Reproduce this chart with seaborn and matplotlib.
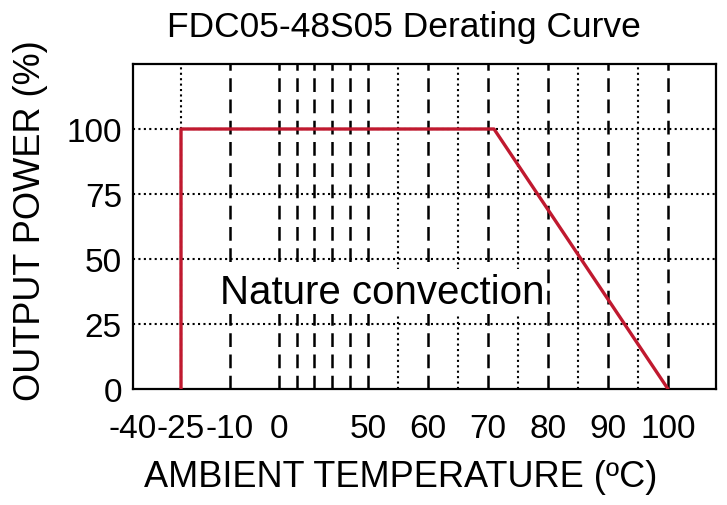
import numpy as np
import pandas as pd
import matplotlib
matplotlib.use('Agg')
import matplotlib.pyplot as plt
import seaborn as sns

# derating curve data
temps = [-25, -25, 71, 100]
power = [0, 100, 100, 0]

x_ticks = [-40, -25, -10, 0, 50, 60, 70, 80, 90, 100]
y_ticks = [0, 25, 50, 75, 100]

# grid lines as drawn on the datasheet
dashed_x = [-10, 0, 10, 20, 30, 40, 50, 60, 70, 80, 90, 100]
dotted_x = [-25, 55, 65, 75, 85, 95]
dotted_y = [25, 50, 75, 100]

# the datasheet axis is not linear: compressed between 0 and 50
scale_temps = [-60, -40, -25, -10, 0, 10, 20, 30, 40, 50, 130]
scale_pos = [-64, 0, 48, 97, 146, 164, 181, 199, 217, 235, 715]


def fwd(x):
    return np.interp(x, scale_temps, scale_pos)


def inv(p):
    return np.interp(p, scale_pos, scale_temps)


df = pd.DataFrame({'temp': temps, 'power': power})

sns.set_style('white')
plt.rcParams['font.family'] = ['Liberation Sans', 'DejaVu Sans']
plt.rcParams['text.color'] = 'black'
plt.rcParams['axes.labelcolor'] = 'black'
plt.rcParams['xtick.color'] = 'black'
plt.rcParams['ytick.color'] = 'black'

fig = plt.figure(figsize=(7.27, 5.06), dpi=100)
ax = fig.add_axes([133 / 727, 1 - 390 / 506, 583 / 727, 325 / 506])
ax.set_xscale('function', functions=(fwd, inv))

for t in dashed_x:
    ax.axvline(t, color='black', lw=1.8, dashes=(5.5, 3.0), zorder=1)
for t in dotted_x:
    ax.axvline(t, color='black', lw=1.5, dashes=(1, 1.6), zorder=1)
for p in dotted_y:
    ax.axhline(p, color='black', lw=1.5, dashes=(1, 1.6), zorder=1)

ax.text(0.427, 0.3, 'Nature convection', transform=ax.transAxes,
        fontsize=29, ha='center', va='center', zorder=2,
        bbox=dict(boxstyle='square,pad=0.08', fc='white', ec='none'))

sns.lineplot(data=df, x='temp', y='power', sort=False, estimator=None,
             color='#C0192F', lw=2.4, ax=ax, zorder=3)

ax.set_xlim(-40, 108)
ax.set_ylim(0, 125)
ax.set_xticks(x_ticks)
ax.set_xticklabels([str(t) for t in x_ticks])
ax.set_yticks(y_ticks)
ax.minorticks_off()
ax.tick_params(axis='both', length=0, labelsize=24)
ax.tick_params(axis='x', pad=17)
ax.tick_params(axis='y', pad=8)

for s in ax.spines.values():
    s.set_visible(True)
    s.set_color('black')
    s.set_linewidth(1.6)

ax.set_xlabel('AMBIENT TEMPERATURE (ºC)', fontsize=26)
ax.xaxis.set_label_coords(0.46, -0.215)
ax.set_ylabel('OUTPUT POWER (%)', fontsize=26)
ax.yaxis.set_label_coords(-0.145, 0.52)
fig.suptitle('FDC05-48S05 Derating Curve', fontsize=25.5, x=0.556, y=0.945, va='center')

fig.savefig('out.png', dpi=100)
